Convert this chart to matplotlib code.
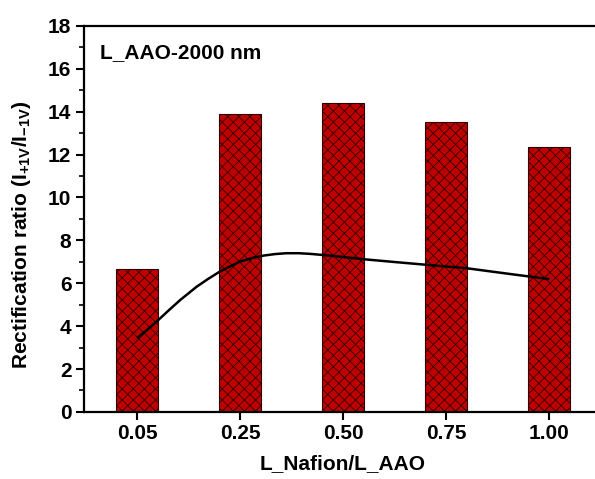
import numpy as np
import matplotlib.pyplot as plt
from matplotlib.ticker import MultipleLocator

plt.rcParams['font.family'] = 'Liberation Sans'
plt.rcParams['font.weight'] = 'bold'
plt.rcParams['mathtext.fontset'] = 'custom'
plt.rcParams['mathtext.rm'] = 'Liberation Sans:bold'
plt.rcParams['mathtext.bf'] = 'Liberation Sans:bold'
plt.rcParams['mathtext.default'] = 'bf'
plt.rcParams['hatch.linewidth'] = 0.6

# bar data
ratios = ['0.05', '0.25', '0.50', '0.75', '1.00']
rect_ratio = [6.65, 13.9, 14.4, 13.5, 12.35]

# smooth trend curve (in category units)
curve_x = [0.01, 0.1, 0.19, 0.3, 0.42, 0.58, 0.69, 0.79, 0.9, 1.0, 1.12, 1.23,
           1.34, 1.45, 1.57, 1.68, 1.87, 2.2, 2.5, 2.81, 3.2, 3.56, 3.99]
curve_y = [3.48, 3.83, 4.21, 4.7, 5.22, 5.84, 6.2, 6.5, 6.78, 7.01, 7.18, 7.29,
           7.36, 7.4, 7.4, 7.37, 7.29, 7.12, 6.99, 6.86, 6.7, 6.47, 6.2]

fig = plt.figure(figsize=(5.95, 4.79), dpi=100)
ax = fig.add_axes([0.141, 0.14, 0.871, 0.806])

pos = np.arange(len(ratios))
ax.bar(pos, rect_ratio, width=0.4, color='#bf0000', edgecolor='#300000',
       linewidth=0.8, hatch='xxx', zorder=2)
ax.plot(curve_x, curve_y, color='black', lw=1.8, zorder=3)

ax.set_xlim(-0.515, 4.515)
ax.set_ylim(0, 18)
ax.set_xticks(pos)
ax.set_xticklabels(ratios)
ax.yaxis.set_major_locator(MultipleLocator(2))
ax.yaxis.set_minor_locator(MultipleLocator(1))
ax.tick_params(axis='both', which='major', direction='out', length=6, width=1.5,
               labelsize=15, pad=3)
ax.tick_params(axis='y', which='minor', direction='out', length=3.5, width=1.2)
for s in ['left', 'bottom', 'top', 'right']:
    ax.spines[s].set_linewidth(1.6)

ax.set_xlabel('L_Nafion/L_AAO', fontsize=15, fontweight='bold', labelpad=8)
ax.set_ylabel(r'Rectification ratio (I$_{+1V}$/I$_{-1V}$)', fontsize=15,
              fontweight='bold')
ax.yaxis.set_label_coords(-0.098, 0.459)
ax.text(0.031, 0.93, 'L_AAO-2000 nm', transform=ax.transAxes, fontsize=15,
        fontweight='bold', va='center', ha='left')

fig.savefig('out.png', dpi=100)
